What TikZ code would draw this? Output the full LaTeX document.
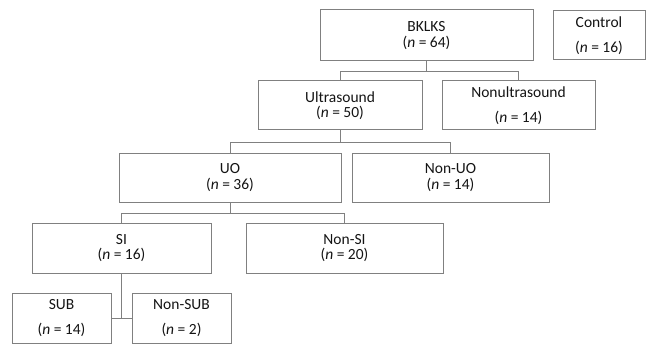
\documentclass[tikz,border=0pt]{standalone}
\usepackage{fontspec}
\setmainfont{Carlito}
\begin{document}
\begin{tikzpicture}[x=1pt,y=-1pt,
  box/.style={draw=boxgray, line width=1pt, rectangle, inner sep=0pt, align=center,
    text=textgray, font=\fontsize{15.5}{15.5}\selectfont},
  wide/.style={box, font=\fontsize{15.5}{24.5}\selectfont},
  conn/.style={draw=boxgray, line width=1pt}]
\definecolor{boxgray}{RGB}{128,128,128}
\definecolor{textgray}{RGB}{20,20,20}
\useasboundingbox (0,0) rectangle (646,345);
\node[box, minimum width=213, minimum height=51] (B) at (426.5,35.5) {BKLKS\\(\textit{n} = 64)};
\node[wide, minimum width=92, minimum height=49] (C) at (599,35.5) {Control\\(\textit{n} = 16)};
\node[box, minimum width=164, minimum height=49] (U) at (340,105.5) {Ultrasound\\(\textit{n} = 50)};
\node[wide, minimum width=153, minimum height=49] (NU) at (518.5,105.5) {Nonultrasound\\(\textit{n} = 14)};
\node[box, minimum width=222, minimum height=49] (UO) at (230,177.5) {UO\\(\textit{n} = 36)};
\node[box, minimum width=197, minimum height=49] (NUO) at (450.5,177.5) {Non-UO\\(\textit{n} = 14)};
\node[box, minimum width=179, minimum height=50] (SI) at (121.5,248) {SI\\(\textit{n} = 16)};
\node[box, minimum width=197, minimum height=50] (NSI) at (344.5,248) {Non-SI\\(\textit{n} = 20)};
\node[wide, minimum width=99, minimum height=50] (SUB) at (61.5,318) {SUB\\(\textit{n} = 14)};
\node[wide, minimum width=99, minimum height=50] (NSUB) at (181.5,318) {Non-SUB\\(\textit{n} = 2)};
\draw[conn] (B.south) -- ++(0,10) coordinate (b1) -| (U.north);
\draw[conn] (b1) -| (NU.north);
\draw[conn] (U.south) -- ++(0,12) coordinate (u1) -| (UO.north);
\draw[conn] (u1) -| (NUO.north);
\draw[conn] (UO.south) -- ++(0,11) coordinate (o1) -| (SI.north);
\draw[conn] (o1) -| (NSI.north);
\draw[conn] (SI.south) -- (SI.south |- SUB.east);
\draw[conn] (SUB.east) -- (NSUB.west);
\end{tikzpicture}
\end{document}
